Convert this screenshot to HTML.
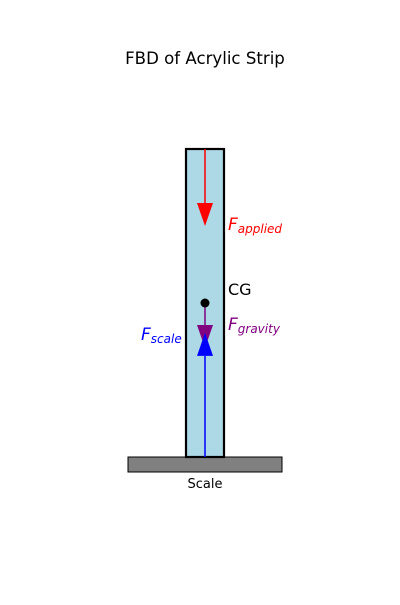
<!DOCTYPE html>
<html><head><meta charset="utf-8"><style>
body{margin:0;background:#fff}
svg text{font-family:"DejaVu Sans","Liberation Sans",sans-serif}
</style></head><body>
<svg id="c" width="400" height="600">
<text x="205" y="64" text-anchor="middle" font-size="16.6">FBD of Acrylic Strip</text>
<rect x="128" y="457" width="154" height="15" fill="#808080" stroke="#000" stroke-width="1"/>
<text x="205" y="488" text-anchor="middle" font-size="13">Scale</text>
<rect x="186" y="149" width="38" height="308" fill="#add8e6" stroke="#000" stroke-width="2.2"/>
<g id="marks"></g>
</svg>
<script>
const forceNames=['applied','gravity','scale'];
const forceStart=[10,5,0];
const forceEnd=[7.5,3.54,4.03];
const forceColors=['red','purple','blue'];
const cgValue=5;
const yMin=0,yMax=10;
function y(v){return 457-(v-yMin)/(yMax-yMin)*308;}
const cx=205,ns='http://www.w3.org/2000/svg',g=document.getElementById('marks');
function mk(t,a){const e=document.createElementNS(ns,t);for(const k in a)e.setAttribute(k,a[k]);g.appendChild(e);return e;}
forceNames.forEach((n,i)=>{
 const y0=y(forceStart[i]),y1=y(forceEnd[i]),dir=y1>y0?1:-1,hl=23;
 const l=mk('line',{x1:cx,y1:y0,x2:cx,y2:y1-dir*hl,stroke:forceColors[i],'stroke-width':1.5});
 
 
 const p=mk('polygon',{points:`${cx},${y1} ${cx-8},${y1-dir*hl} ${cx+8},${y1-dir*hl}`,fill:forceColors[i]});
 
 
});
const cg=mk('circle',{cx:cx,cy:y(cgValue),r:4.5,fill:'#000'});


</script>
<svg style="position:absolute;left:0;top:0" width="400" height="600">
<text x="228" y="295" font-size="16" style="font-family:'DejaVu Sans',sans-serif">CG</text>
<text x="228" y="230" font-size="17" fill="red" font-style="italic" style="font-family:'DejaVu Sans',sans-serif">F<tspan font-size="12" dy="3">applied</tspan></text>
<text x="228" y="330" font-size="17" fill="purple" font-style="italic" style="font-family:'DejaVu Sans',sans-serif">F<tspan font-size="12" dy="3">gravity</tspan></text>
<text x="141" y="340" font-size="17" fill="blue" font-style="italic" style="font-family:'DejaVu Sans',sans-serif">F<tspan font-size="12" dy="3">scale</tspan></text>
</svg>
</body></html>
